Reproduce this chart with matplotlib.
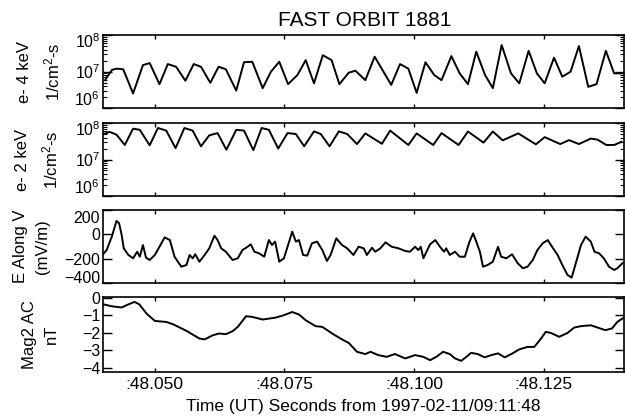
import matplotlib
matplotlib.use('Agg')
import matplotlib.pyplot as plt
from matplotlib.ticker import LogLocator, FixedLocator, NullFormatter
from matplotlib.transforms import ScaledTranslation

plt.rcParams['font.family'] = ['Liberation Sans', 'DejaVu Sans']
plt.rcParams['mathtext.fontset'] = 'custom'
plt.rcParams['mathtext.rm'] = 'Liberation Sans'
plt.rcParams['mathtext.it'] = 'Liberation Sans'
plt.rcParams['mathtext.bf'] = 'Liberation Sans'

# e- 4 keV flux (1/cm^2-s)
t_e4 = [48.0404, 48.0417, 48.0426, 48.0439, 48.0458, 48.0477, 48.0490, 48.0509, 48.0525, 48.0541,
        48.0559, 48.0575, 48.0589, 48.0607, 48.0623, 48.0637, 48.0657, 48.0672, 48.0688, 48.0708,
        48.0724, 48.0740, 48.0757, 48.0775, 48.0791, 48.0807, 48.0824, 48.0841, 48.0856, 48.0874,
        48.0887, 48.0906, 48.0924, 48.0941, 48.0956, 48.0973, 48.0989, 48.1005, 48.1022, 48.1039,
        48.1053, 48.1072, 48.1088, 48.1104, 48.1120, 48.1137, 48.1152, 48.1169, 48.1187, 48.1203,
        48.1221, 48.1237, 48.1252, 48.1270, 48.1286, 48.1302, 48.1318, 48.1336, 48.1352, 48.1370,
        48.1386, 48.1398]
e4 = [5.8e6, 1.1e7, 1.2e7, 1.15e7, 2.5e6, 1.5e7, 1.7e7, 4.5e6, 1.6e7, 1.35e7,
      5.6e6, 1.6e7, 1.35e7, 4.9e6, 1.35e7, 1.15e7, 3.0e6, 1.8e7, 1.85e7, 3.5e6,
      9.9e6, 1.85e7, 4.5e6, 8.0e6, 2.05e7, 4.75e6, 2.8e7, 2.05e7, 4.5e6, 9.3e6,
      1.05e7, 5.8e6, 2.55e7, 9.9e6, 4.3e6, 1.6e7, 1.2e7, 2.6e6, 1.8e7, 8.0e6,
      5.8e6, 2.65e7, 8.9e6, 4.5e6, 3.5e7, 8.0e6, 3.5e6, 5.3e7, 8.9e6, 4.75e6,
      3.7e7, 8.9e6, 4.75e6, 2.4e7, 7.2e6, 9.9e6, 5.0e7, 3.8e6, 4.5e6, 3.7e7,
      8.9e6, 8.9e6]

# e- 2 keV flux (1/cm^2-s)
t_e2 = [48.0401, 48.0413, 48.0426, 48.0442, 48.0458, 48.0471, 48.0490, 48.0506, 48.0522, 48.0540,
        48.0557, 48.0573, 48.0589, 48.0605, 48.0621, 48.0638, 48.0657, 48.0672, 48.0690, 48.0706,
        48.0720, 48.0738, 48.0756, 48.0772, 48.0788, 48.0807, 48.0820, 48.0837, 48.0855, 48.0871,
        48.0890, 48.0906, 48.0938, 48.0954, 48.0989, 48.1005, 48.1037, 48.1053, 48.1086, 48.1104,
        48.1134, 48.1152, 48.1171, 48.1201, 48.1235, 48.1252, 48.1282, 48.1299, 48.1318, 48.1341,
        48.1354, 48.1371, 48.1386, 48.1400]
e2 = [5.0e7, 5.7e7, 4.8e7, 2.5e7, 7.0e7, 6.5e7, 2.45e7, 7.3e7, 6.2e7, 2.05e7,
      7.3e7, 6.2e7, 2.3e7, 4.6e7, 5.3e7, 1.85e7, 6.5e7, 6.2e7, 1.8e7, 7.3e7,
      6.5e7, 2.0e7, 5.3e7, 5.0e7, 2.3e7, 5.9e7, 5.0e7, 2.3e7, 5.9e7, 5.0e7,
      2.65e7, 5.2e7, 2.7e7, 6.2e7, 2.5e7, 5.2e7, 2.5e7, 5.3e7, 2.5e7, 5.85e7,
      2.9e7, 5.85e7, 3.35e7, 5.2e7, 2.6e7, 4.1e7, 2.65e7, 3.4e7, 2.65e7, 3.75e7,
      3.5e7, 2.5e7, 2.5e7, 3.05e7]

# E along V (mV/m)
t_ev = [48.0399, 48.0407, 48.0417, 48.0426, 48.0431, 48.0436, 48.0440, 48.0449, 48.0458, 48.0466,
        48.0471, 48.0477, 48.0483, 48.0490, 48.0500, 48.0509, 48.0519, 48.0529, 48.0538, 48.0551,
        48.0561, 48.0567, 48.0573, 48.0578, 48.0586, 48.0596, 48.0605, 48.0615, 48.0621, 48.0628,
        48.0637, 48.0650, 48.0660, 48.0669, 48.0679, 48.0685, 48.0692, 48.0701, 48.0711, 48.0720,
        48.0726, 48.0732, 48.0740, 48.0749, 48.0757, 48.0765, 48.0772, 48.0778, 48.0786, 48.0794,
        48.0803, 48.0813, 48.0823, 48.0832, 48.0839, 48.0850, 48.0861, 48.0871, 48.0883, 48.0893,
        48.0903, 48.0909, 48.0919, 48.0925, 48.0935, 48.0945, 48.0957, 48.0970, 48.0983, 48.0992,
        48.1002, 48.1008, 48.1013, 48.1018, 48.1024, 48.1031, 48.1041, 48.1050, 48.1058, 48.1062,
        48.1069, 48.1079, 48.1088, 48.1098, 48.1107, 48.1114, 48.1120, 48.1127, 48.1133, 48.1142,
        48.1152, 48.1162, 48.1168, 48.1178, 48.1189, 48.1200, 48.1210, 48.1219, 48.1229, 48.1238,
        48.1248, 48.1258, 48.1264, 48.1277, 48.1286, 48.1296, 48.1304, 48.1312, 48.1322, 48.1331,
        48.1341, 48.1348, 48.1357, 48.1366, 48.1376, 48.1386, 48.1392, 48.1402]
ev = [-170, -129, -19, 110, 91, -5, -115, -170, -197, -143,
      -184, -88, -192, -211, -170, -102, -25, -47, -184, -266,
      -252, -170, -197, -164, -225, -170, -115, -11, -47, -115,
      -143, -211, -197, -129, -102, -82, -143, -156, -184, -47,
      -88, -60, -225, -197, -88, 22, -60, -47, -170, -175,
      -74, -60, -129, -219, -170, -33, -88, -115, -170, -102,
      -115, -170, -110, -143, -115, -66, -102, -115, -137, -143,
      -102, -129, -102, -197, -143, -82, -47, -102, -143, -115,
      -170, -143, -184, -184, -60, 8, -60, -143, -266, -252,
      -225, -102, -184, -197, -164, -238, -279, -266, -211, -129,
      -74, -47, -88, -170, -252, -334, -356, -238, -88, -19,
      -60, -143, -156, -197, -266, -293, -279, -238]

# Mag2 AC (nT)
t_mag = [48.0401, 48.0417, 48.0436, 48.0449, 48.0461, 48.0470, 48.0484, 48.0500, 48.0522, 48.0535,
         48.0561, 48.0586, 48.0596, 48.0612, 48.0624, 48.0637, 48.0650, 48.0660, 48.0676, 48.0688,
         48.0708, 48.0733, 48.0749, 48.0765, 48.0778, 48.0791, 48.0810, 48.0823, 48.0842, 48.0861,
         48.0874, 48.0890, 48.0906, 48.0916, 48.0931, 48.0947, 48.0963, 48.0983, 48.1002, 48.1018,
         48.1031, 48.1043, 48.1056, 48.1069, 48.1079, 48.1091, 48.1101, 48.1110, 48.1123, 48.1136,
         48.1149, 48.1162, 48.1175, 48.1190, 48.1203, 48.1219, 48.1232, 48.1245, 48.1254, 48.1264,
         48.1280, 48.1296, 48.1309, 48.1322, 48.1341, 48.1354, 48.1369, 48.1382, 48.1392, 48.1402]
mag = [-0.37, -0.48, -0.55, -0.37, -0.23, -0.37, -0.90, -1.32, -1.38, -1.51,
       -1.89, -2.33, -2.38, -2.14, -2.04, -2.08, -1.91, -1.66, -1.05, -1.09,
       -1.24, -1.13, -0.99, -0.81, -0.95, -1.28, -1.62, -1.66, -2.04, -2.38,
       -2.58, -3.09, -3.22, -3.09, -3.28, -3.38, -3.22, -3.47, -3.28, -3.38,
       -3.57, -3.38, -3.09, -3.22, -3.47, -3.61, -3.38, -3.15, -3.22, -3.41,
       -3.28, -3.18, -3.41, -3.18, -2.95, -2.81, -2.81, -2.33, -1.95, -2.01,
       -2.23, -2.01, -1.70, -1.62, -1.57, -1.70, -1.85, -1.75, -1.38, -1.18]

x_ticks = [48.050, 48.075, 48.100, 48.125]
x_labels = [':48.050', ':48.075', ':48.100', ':48.125']

fig = plt.figure(figsize=(6.25, 4.18), dpi=100)
left, width = 0.1648, 0.8336
ax1 = fig.add_axes([left, 0.7416, width, 0.1746])
ax2 = fig.add_axes([left, 0.5311, width, 0.1746])
ax3 = fig.add_axes([left, 0.3230, width, 0.1746])
ax4 = fig.add_axes([left, 0.1100, width, 0.1794])
axes = [ax1, ax2, ax3, ax4]

ax1.plot(t_e4, e4, color='black', lw=1.4)
ax2.plot(t_e2, e2, color='black', lw=1.4)
ax3.plot(t_ev, ev, color='black', lw=1.4)
ax4.plot(t_mag, mag, color='black', lw=1.4)

for ax in [ax1, ax2]:
    ax.set_yscale('log')
    ax.set_ylim(1e6, 1e8)
    ax.set_yticks([1e6, 1e7, 1e8])
    ax.yaxis.set_minor_locator(LogLocator(base=10, subs=range(2, 10), numticks=5))
    ax.yaxis.set_minor_formatter(NullFormatter())

ax3.set_ylim(-400, 200)
ax3.set_yticks([-400, -200, 0, 200])
ax4.set_ylim(-4.25, 0.05)
ax4.set_yticks([-4, -3, -2, -1, 0])

for ax in axes:
    ax.set_xlim(48.040, 48.1405)
    ax.xaxis.set_major_locator(FixedLocator(x_ticks))
    ax.tick_params(axis='y', which='major', direction='in', length=6.5, width=1,
                   left=True, right=True, labelsize=11.5, pad=2)
    ax.tick_params(axis='y', which='minor', direction='in', length=3, width=0.8,
                   left=True, right=True)
    ax.tick_params(axis='x', which='major', direction='in', length=3, width=1,
                   top=True, bottom=True, labelsize=12.5)
    for s in ax.spines.values():
        s.set_linewidth(1.2)
    if ax is not ax4:
        ax.set_xticklabels([])

ax4.set_xticklabels(x_labels)
ax4.set_xlabel('Time (UT) Seconds from 1997-02-11/09:11:48', fontsize=12.5, labelpad=5)

# push the end tick labels inward, as in the original plot
shifts = {ax1: (-4, 7), ax2: (-4, 7), ax3: (-5, 4)}
for ax, (top_dy, bot_dy) in shifts.items():
    labs = ax.get_yticklabels()
    for lab, dy in [(labs[-1], top_dy), (labs[0], bot_dy)]:
        lab.set_transform(lab.get_transform() + ScaledTranslation(0, dy / 72, fig.dpi_scale_trans))

ylabels = ['e- 4 keV\n1/cm$^2$-s', 'e- 2 keV\n1/cm$^2$-s', 'E Along V\n(mV/m)', 'Mag2 AC\nnT']
label_x = [-0.078, -0.082, -0.102, -0.084]
for ax, lab, lx in zip(axes, ylabels, label_x):
    ax.set_ylabel(lab, fontsize=12, linespacing=1.6)
    ax.yaxis.set_label_coords(lx, 0.5)

fig.text(0.584, 0.952, 'FAST ORBIT 1881', fontsize=15, ha='center', va='center')

fig.savefig('out.png', dpi=100)
